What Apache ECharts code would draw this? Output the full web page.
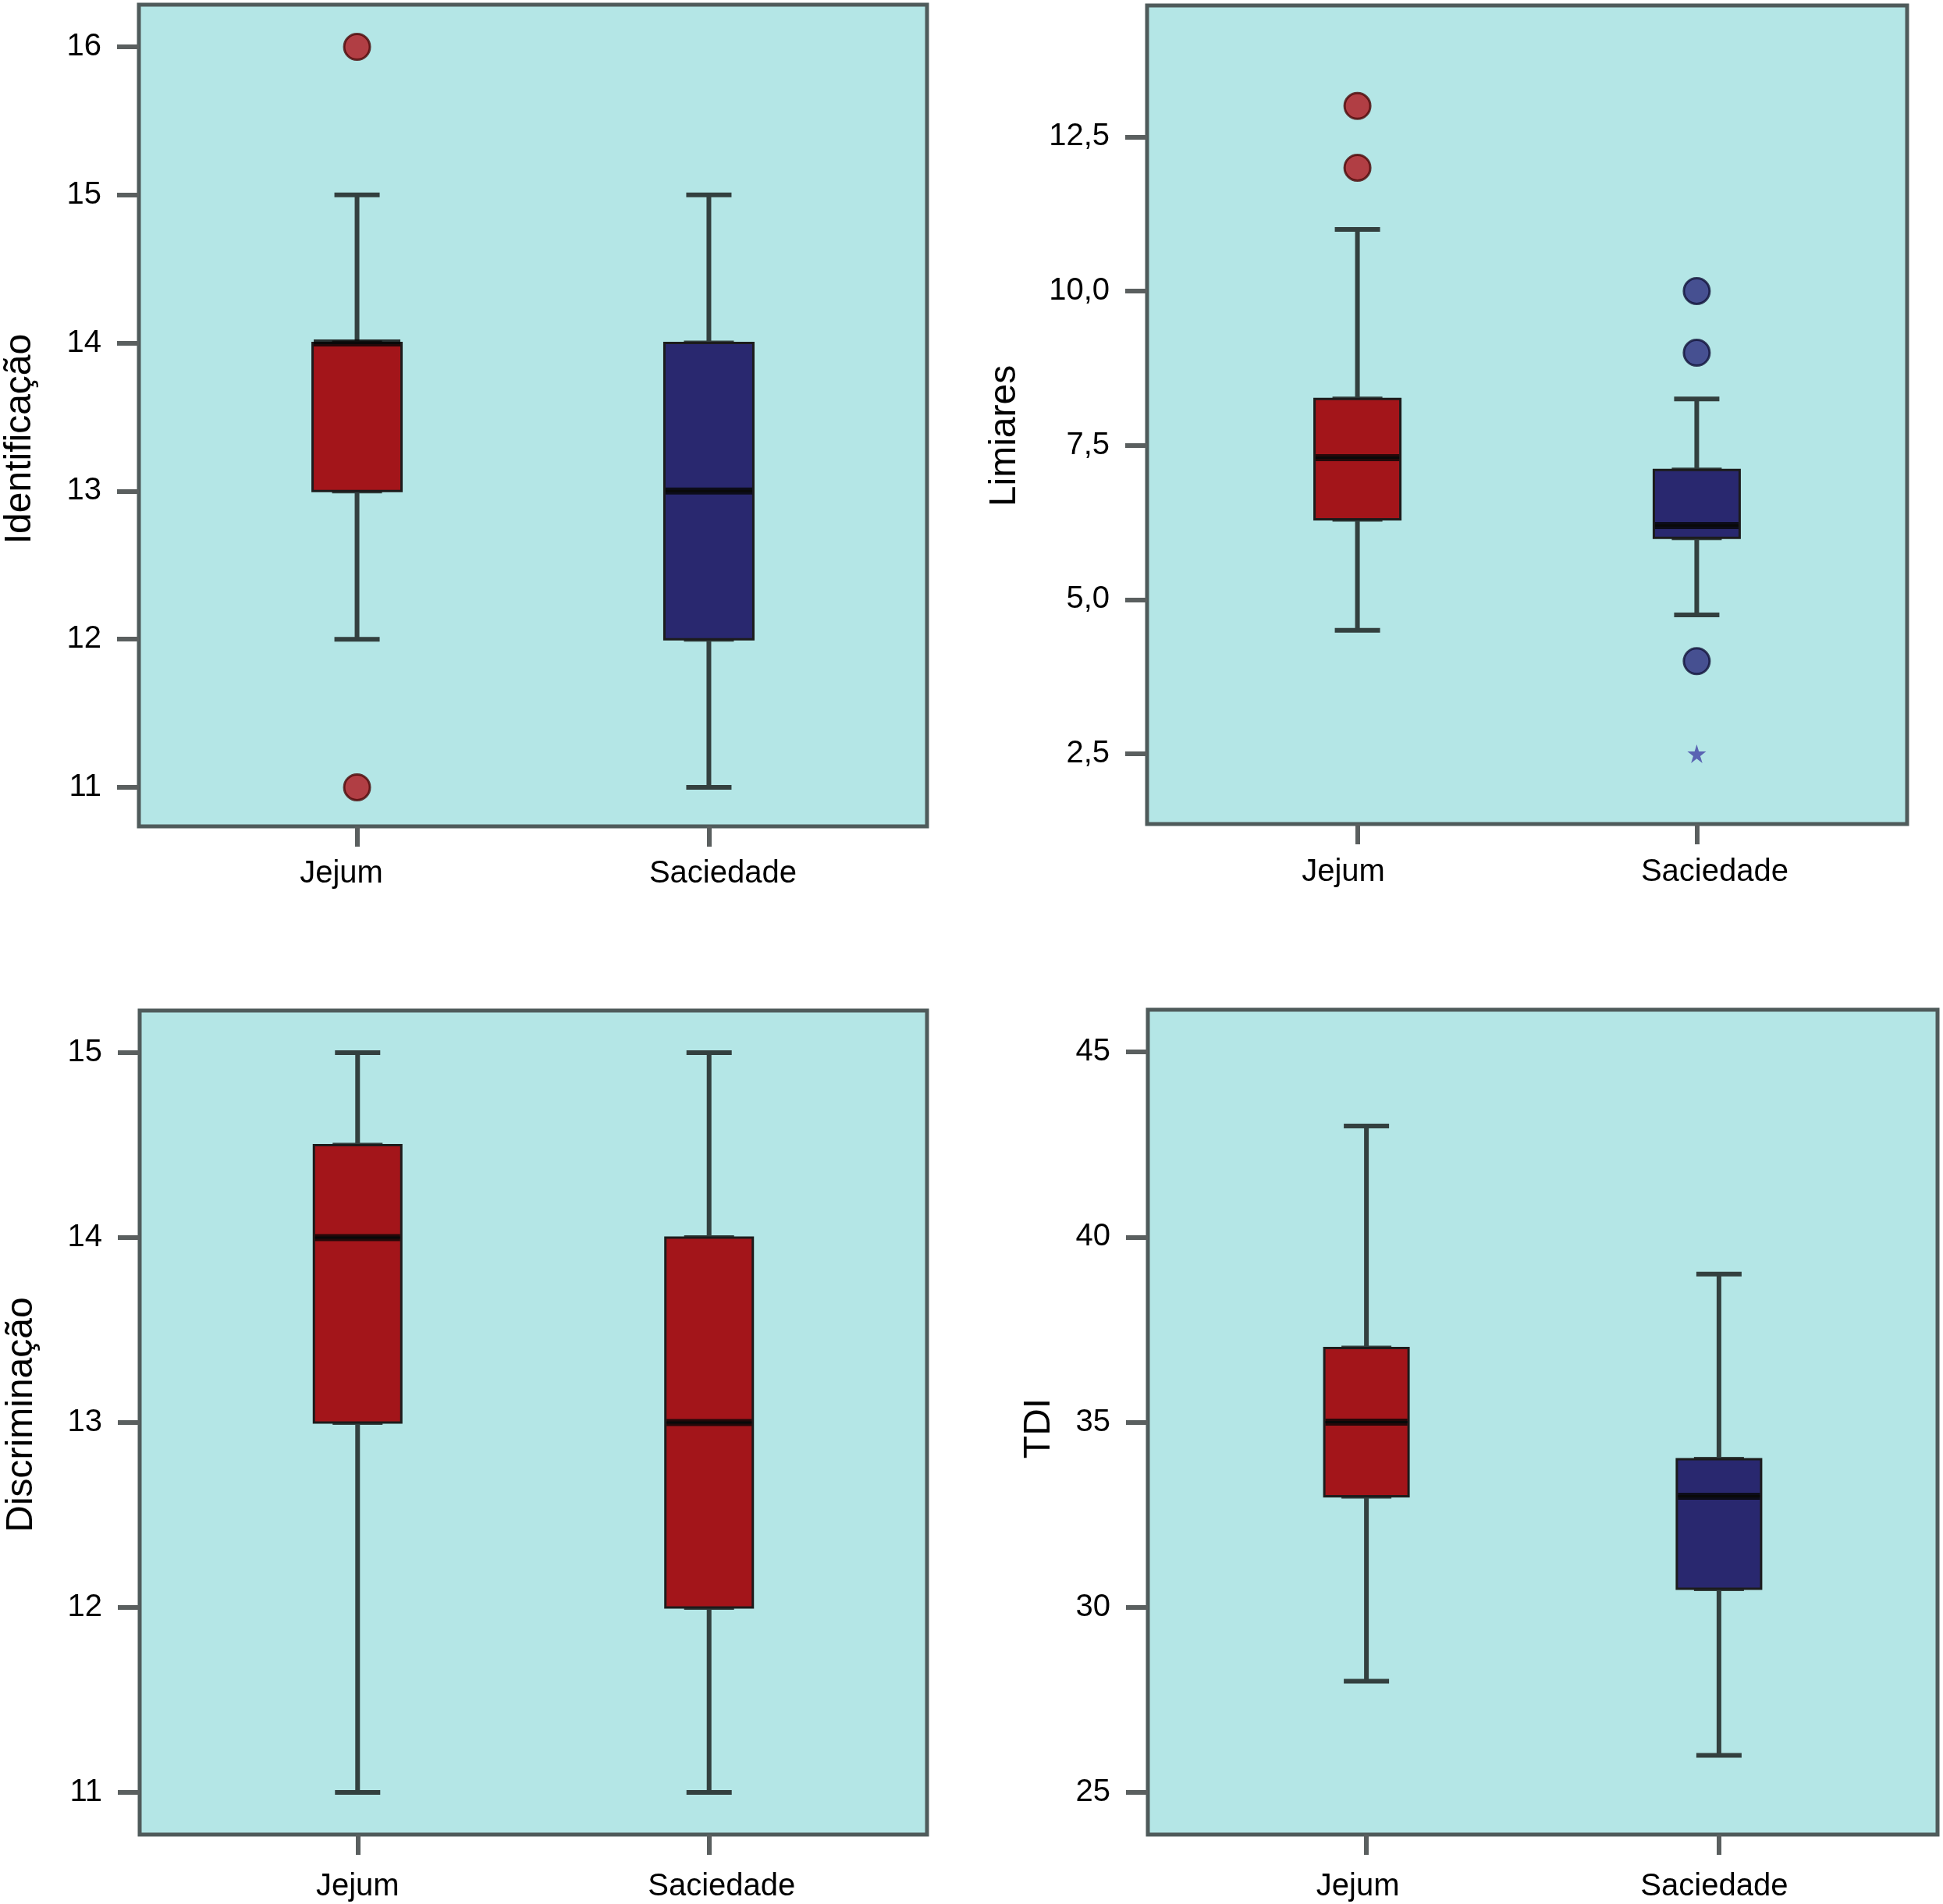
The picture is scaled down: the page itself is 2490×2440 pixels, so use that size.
<!DOCTYPE html>
<html>
<head>
<meta charset="utf-8">
<script src="https://cdn.jsdelivr.net/npm/echarts@6/dist/echarts.min.js"></script>
<style>html,body{margin:0;padding:0;background:#fff}#c{width:2490px;height:2440px}</style>
</head>
<body>
<div id="c"></div>
<script>
// ---------------- DATA ----------------
const categories = ['Jejum', 'Saciedade'];
// each box: [lower whisker, Q1, median, Q3, upper whisker]
const identBoxes = [[12, 13, 14, 14, 15], [11, 12, 13, 14, 15]];
const identOutliers = [[16, 11], []];
const identExtremes = [[], []];
const identTicks = [11, 12, 13, 14, 15, 16];

const limBoxes = [[4.5, 6.3, 7.3, 8.25, 11], [4.75, 6.0, 6.2, 7.1, 8.25]];
const limOutliers = [[13, 12], [10, 9, 4]];
const limExtremes = [[], [2.5]];
const limTicks = [2.5, 5, 7.5, 10, 12.5];

const discBoxes = [[11, 13, 14, 14.5, 15], [11, 12, 13, 14, 15]];
const discOutliers = [[], []];
const discExtremes = [[], []];
const discTicks = [11, 12, 13, 14, 15];

const tdiBoxes = [[28, 33, 35, 37, 43], [26, 30.5, 33, 34, 39]];
const tdiOutliers = [[], []];
const tdiExtremes = [[], []];
const tdiTicks = [25, 30, 35, 40, 45];

// ---------------- STYLE / LAYOUT ----------------
const RED = '#a3151a', BLUE = '#29286f';
const FONT = 'Liberation Sans, Arial, Helvetica, sans-serif';
const panels = [
  { title: 'Identificação', boxes: identBoxes, outliers: identOutliers, extremes: identExtremes, ticks: identTicks, dec: 0,
    min: 10.736, max: 16.285, grid: { left: 178, top: 6, width: 1010, height: 1053 }, nameGap: 128, namePad: [0, 60, 0, 0],
    colors: [RED, BLUE], boxW: 114, labShift: [-20, 18], labMargin: 41 },
  { title: 'Limiares', boxes: limBoxes, outliers: limOutliers, extremes: limExtremes, ticks: limTicks, dec: 1,
    min: 1.36, max: 14.63, grid: { left: 1470, top: 7, width: 974, height: 1049 }, nameGap: 158, namePad: [0, 54, 0, 0],
    colors: [RED, BLUE], boxW: 110, labShift: [-18, 23], labMargin: 42 },
  { title: 'Discriminação', boxes: discBoxes, outliers: discOutliers, extremes: discExtremes, ticks: discTicks, dec: 0,
    min: 10.772, max: 15.228, grid: { left: 179, top: 1295, width: 1009, height: 1056 }, nameGap: 127, namePad: [0, 0, 0, 20],
    colors: [RED, RED], boxW: 112, labShift: [0, 16], labMargin: 47 },
  { title: 'TDI', boxes: tdiBoxes, outliers: tdiOutliers, extremes: tdiExtremes, ticks: tdiTicks, dec: 0,
    min: 23.86, max: 46.14, grid: { left: 1471, top: 1294, width: 1012, height: 1057 }, nameGap: 115, namePad: [0, 16, 0, 0],
    colors: [RED, BLUE], boxW: 108, labShift: [-11, -6], labMargin: 47 }
];
const X_MIN = 0.38, X_MAX = 2.62;
const WHISKER = '#33403f';
const TICK = '#5a5f5f';
const STAR = 'path://M50,0 L61,35 L98,35 L68,57 L79,91 L50,70 L21,91 L32,57 L2,35 L39,35 Z';

function shiftPad(d) { return d >= 0 ? [0, 0, 0, 2 * d] : [0, -2 * d, 0, 0]; }

const grid = [], xAxis = [], yAxis = [], series = [];
panels.forEach((p, k) => {
  grid.push(Object.assign({ show: true, backgroundColor: '#b4e6e6', borderColor: '#4f5b5b', borderWidth: 5, containLabel: false }, p.grid));
  const catVals = categories.map((c, i) => i + 1);
  xAxis.push({
    type: 'value', gridIndex: k, min: X_MIN, max: X_MAX,
    axisLine: { show: false }, splitLine: { show: false },
    axisTick: { show: true, customValues: catVals, length: 26, lineStyle: { color: TICK, width: 6 } },
    axisLabel: {
      show: true, customValues: catVals, margin: p.labMargin,
      formatter: v => (Math.round(v) === 1 ? '{l|' : '{r|') + categories[Math.round(v) - 1] + '}',
      rich: {
        l: { fontSize: 40, fontFamily: FONT, color: '#000', padding: shiftPad(p.labShift[0]) },
        r: { fontSize: 40, fontFamily: FONT, color: '#000', padding: shiftPad(p.labShift[1]) }
      }
    }
  });
  xAxis.push({ type: 'value', gridIndex: k, min: X_MIN, max: X_MAX, show: false, splitLine: { show: false } });
  yAxis.push({
    type: 'value', gridIndex: k, min: p.min, max: p.max,
    axisLine: { show: false }, splitLine: { show: false },
    axisTick: { show: true, customValues: p.ticks, length: 28, lineStyle: { color: TICK, width: 6 } },
    axisLabel: {
      show: true, customValues: p.ticks, margin: 48, fontSize: 40, fontFamily: FONT, color: '#000',
      formatter: v => p.dec ? v.toFixed(p.dec).replace('.', ',') : String(Math.round(v))
    },
    name: p.title, nameLocation: 'middle', nameGap: p.nameGap,
    nameTextStyle: { fontSize: 48, fontFamily: FONT, color: '#000', padding: p.namePad }
  });
  // whiskers (narrow caps)
  series.push({
    type: 'boxplot', xAxisIndex: 2 * k + 1, yAxisIndex: k, boxWidth: [58, 58], z: 2, silent: true,
    itemStyle: { color: 'rgba(0,0,0,0)', borderColor: WHISKER, borderWidth: 6 },
    data: p.boxes.map((b, i) => [i + 1].concat(b))
  });
  // boxes
  series.push({
    type: 'boxplot', xAxisIndex: 2 * k, yAxisIndex: k, boxWidth: [p.boxW, p.boxW], z: 3, silent: true,
    data: p.boxes.map((b, i) => ({
      value: [i + 1, b[1], b[1], b[2], b[3], b[3]],
      itemStyle: { color: p.colors[i], borderColor: '#1c1c1c', borderWidth: 3 }
    }))
  });
  // median lines
  series.push({
    type: 'scatter', xAxisIndex: 2 * k, yAxisIndex: k, z: 4, silent: true,
    symbol: 'rect', symbolSize: [p.boxW - 3, 9],
    itemStyle: { color: '#050505' },
    data: p.boxes.map((b, i) => [i + 1, b[2]])
  });
  // outliers
  const out = [];
  p.outliers.forEach((arr, i) => arr.forEach(v => out.push({ value: [i + 1, v], itemStyle: { color: i === 0 ? '#b0141b' : '#2b2a7c', borderColor: i === 0 ? '#4a0708' : '#121238' } })));
  series.push({
    type: 'scatter', xAxisIndex: 2 * k, yAxisIndex: k, z: 5, silent: true,
    symbol: 'circle', symbolSize: 33, itemStyle: { borderWidth: 3 }, data: out
  });
  const ext = [];
  p.extremes.forEach((arr, i) => arr.forEach(v => ext.push([i + 1, v])));
  series.push({
    type: 'scatter', xAxisIndex: 2 * k, yAxisIndex: k, z: 5, silent: true,
    symbol: STAR, symbolSize: 24, itemStyle: { color: '#4343a6' }, data: ext
  });
});

const chart = echarts.init(document.getElementById('c'), null, { renderer: 'canvas' });
chart.setOption({ animation: false, backgroundColor: '#fff', grid, xAxis, yAxis, series });
</script>
</body>
</html>
